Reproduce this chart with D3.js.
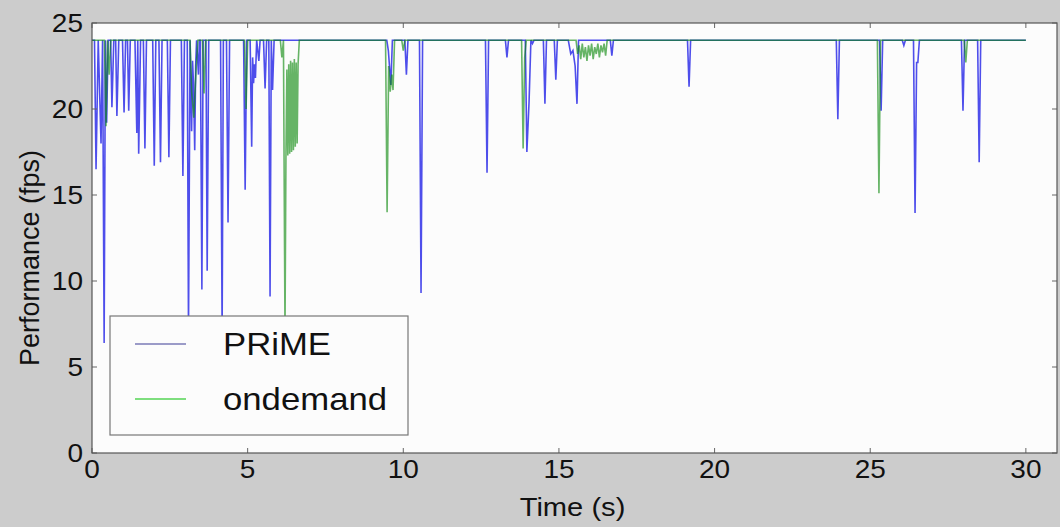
<!DOCTYPE html>
<html>
<head>
<meta charset="utf-8">
<script src="https://cdn.jsdelivr.net/npm/d3@7"></script>
<style>
  body { margin: 0; background: #cccccc; }
  text { font-family: "Liberation Sans", Arial, sans-serif; fill: #111; }
</style>
</head>
<body>
<script>
// Frame rate traces, [time (s), fps]
var prime = [
  [0,24],[0.08,24],[0.13,16.5],[0.2,24],[0.29,18.0],[0.34,24],[0.39,6.4],[0.43,24],
  [0.47,19.2],[0.52,24],[0.6,24],[0.64,20.1],[0.7,24],[0.76,24],[0.8,19.6],[0.86,24],
  [0.98,24],[1.03,19.8],[1.08,24],[1.14,24],[1.18,19.9],[1.23,24],[1.38,24],[1.44,18.6],
  [1.47,24],[1.5,17.4],[1.56,24],[1.65,24],[1.7,17.7],[1.75,24],[1.95,24],[2.0,16.7],
  [2.05,24],[2.15,24],[2.2,16.9],[2.25,24],[2.42,24],[2.47,17.2],[2.52,24],[2.87,24],
  [2.92,16.1],[2.97,24],[3.06,24],[3.1,7.0],[3.15,24],[3.2,18.7],[3.23,22.8],[3.26,21.5],
  [3.3,17.6],[3.33,22.5],[3.36,24],[3.42,22.0],[3.45,24],[3.48,24],[3.53,9.5],[3.57,24],
  [3.66,24],[3.7,10.6],[3.75,24],[4.13,24],[4.18,7.0],[4.22,24],[4.32,24],[4.37,13.4],
  [4.42,24],[4.87,24],[4.92,15.3],[4.97,24],[5.08,24],[5.13,17.8],[5.16,23],[5.19,21.5],
  [5.22,22.6],[5.25,21.8],[5.29,24],[5.36,22.8],[5.4,24],[5.51,24],[5.56,21.2],[5.61,24],
  [5.68,24],[5.72,9.1],[5.76,24],[5.8,21.1],[5.85,24],[9.47,24],[9.52,23.4],[9.6,21.4],
  [9.65,24],[10.05,24],[10.1,22.0],[10.15,24],[10.52,24],[10.57,9.3],[10.62,24],
  [12.64,24],[12.69,16.3],[12.74,24],[13.28,24],[13.33,23.0],[13.38,24],[13.92,24],
  [13.97,17.5],[14.04,20.4],[14.1,24],[14.15,23.8],[14.2,24],[14.5,24],[14.55,20.3],
  [14.6,24],[14.85,24],[14.9,21.7],[14.95,24],[15.3,24],[15.38,23.2],[15.45,23.4],
  [15.52,22.5],[15.58,20.3],[15.63,24],[16.65,24],[16.7,23.1],[16.75,24],[19.13,24],
  [19.18,21.3],[19.23,24],[23.91,24],[23.96,19.4],[24.01,24],[25.3,24],[25.35,19.9],
  [25.4,24],[26.03,24],[26.08,23.7],[26.13,24],[26.39,24],[26.44,13.95],[26.49,22.7],
  [26.53,22.7],[26.58,24],[27.93,24],[27.98,19.9],[28.03,24],[28.45,24],[28.5,16.9],
  [28.55,24],[30,24]
];

var ondemand = [
  [0,24],[0.4,24],[0.45,19.0],[0.5,24],[0.55,22],[0.6,24],[3.15,24],[3.2,21],[3.27,19.5],
  [3.35,22.5],[3.4,24],[3.55,24],[3.6,20.9],[3.65,24],[4.9,24],[4.95,20],[5.0,24],
  [6.05,24],[6.1,23],[6.15,24],[6.2,7.0],[6.23,17.2],[6.26,22.3],[6.29,17.3],[6.32,22.6],
  [6.35,17.4],[6.38,22.8],[6.41,17.5],[6.44,22.7],[6.47,17.6],[6.5,22.9],[6.53,17.8],
  [6.56,22.7],[6.59,18.0],[6.62,22.6],[6.66,24],[9.43,24],[9.48,14.0],
  [9.53,22.5],[9.58,21],[9.63,22],[9.67,21.1],[9.72,24],[9.95,24],[10.0,23.4],[10.05,24],
  [13.8,24],[13.85,17.7],[13.9,23],[13.95,24],[15.55,24],[15.6,23.2],[15.65,23.7],
  [15.7,22.9],[15.75,23.8],[15.8,23.0],[15.85,23.6],[15.9,22.8],[15.95,23.7],[16.0,23.1],
  [16.05,23.8],[16.1,22.9],[16.15,23.6],[16.2,23.2],[16.25,23.8],[16.3,23.0],[16.35,23.7],
  [16.4,23.3],[16.45,23.8],[16.5,23.1],[16.55,24],[25.23,24],[25.28,15.1],
  [25.33,24],[28.02,24],[28.07,22.7],[28.12,24],[30,24]
];

var xTicks = [0, 5, 10, 15, 20, 25, 30];
var yTicks = [0, 5, 10, 15, 20, 25];
var seriesNames = ["PRiME", "ondemand"];

var width = 1060, height = 527;
var plotLeft = 92, plotRight = 1057, plotTop = 23, plotBottom = 453;
var sx = 1.12; // horizontal text stretch seen in the picture

var x = d3.scaleLinear().domain([0, 31]).range([plotLeft, plotRight]);
var y = d3.scaleLinear().domain([0, 25]).range([plotBottom, plotTop]);

var svg = d3.select("body").append("svg")
    .attr("width", width)
    .attr("height", height);

svg.append("rect")
    .attr("width", width).attr("height", height)
    .attr("fill", "#cccccc");

// plot area
svg.append("rect")
    .attr("x", plotLeft).attr("y", plotTop)
    .attr("width", plotRight - plotLeft).attr("height", plotBottom - plotTop)
    .attr("fill", "#fcfcfc");

svg.append("clipPath").attr("id", "clip")
  .append("rect")
    .attr("x", plotLeft).attr("y", plotTop)
    .attr("width", plotRight - plotLeft).attr("height", plotBottom - plotTop);

var line = d3.line()
    .x(function(d) { return x(d[0]); })
    .y(function(d) { return y(d[1]); });

var g = svg.append("g").attr("clip-path", "url(#clip)");

g.append("path")
    .attr("d", line(prime))
    .attr("fill", "none")
    .attr("stroke", "#1414e6")
    .attr("stroke-opacity", 0.75)
    .attr("stroke-width", 1.6);

g.append("path")
    .attr("d", line(ondemand))
    .attr("fill", "none")
    .attr("stroke", "#0a880a")
    .attr("stroke-opacity", 0.62)
    .attr("stroke-width", 1.6);

// ticks inward on all four sides
var tickLen = 5;
xTicks.forEach(function(t) {
  svg.append("line").attr("x1", x(t)).attr("x2", x(t))
      .attr("y1", plotBottom).attr("y2", plotBottom - tickLen).attr("stroke", "#666");
  svg.append("line").attr("x1", x(t)).attr("x2", x(t))
      .attr("y1", plotTop).attr("y2", plotTop + tickLen).attr("stroke", "#666");
  svg.append("text")
      .attr("transform", "translate(" + x(t) + "," + (plotBottom + 25) + ") scale(" + sx + ",1)")
      .attr("text-anchor", "middle")
      .style("font-size", "25px")
      .text(t);
});

yTicks.forEach(function(t) {
  svg.append("line").attr("x1", plotLeft).attr("x2", plotLeft + tickLen)
      .attr("y1", y(t)).attr("y2", y(t)).attr("stroke", "#666");
  svg.append("line").attr("x1", plotRight).attr("x2", plotRight - tickLen)
      .attr("y1", y(t)).attr("y2", y(t)).attr("stroke", "#666");
  svg.append("text")
      .attr("transform", "translate(" + (plotLeft - 9) + "," + (y(t) + 9) + ") scale(" + sx + ",1)")
      .attr("text-anchor", "end")
      .style("font-size", "25px")
      .text(t);
});

// frame
svg.append("rect")
    .attr("x", plotLeft).attr("y", plotTop)
    .attr("width", plotRight - plotLeft).attr("height", plotBottom - plotTop)
    .attr("fill", "none")
    .attr("stroke", "#555")
    .attr("stroke-width", 1.2);

// axis labels
svg.append("text")
    .attr("transform", "translate(" + ((plotLeft + plotRight) / 2 - 2) + ",516) scale(" + sx + ",1)")
    .attr("text-anchor", "middle")
    .style("font-size", "26px")
    .text("Time (s)");

svg.append("text")
    .attr("transform", "translate(39,258) rotate(-90)")
    .attr("text-anchor", "middle")
    .style("font-size", "27px")
    .text("Performance (fps)");

// legend
var legend = svg.append("g");
legend.append("rect")
    .attr("x", 110).attr("y", 316)
    .attr("width", 298).attr("height", 119)
    .attr("fill", "#fcfcfc")
    .attr("stroke", "#777")
    .attr("stroke-width", 1.2);

var legendColors = ["#9b9bc8", "#7ede7e"];
seriesNames.forEach(function(name, i) {
  var ly = 344 + i * 55;
  legend.append("line")
      .attr("x1", 135).attr("x2", 186)
      .attr("y1", ly).attr("y2", ly)
      .attr("stroke", legendColors[i])
      .attr("stroke-width", 2);
  legend.append("text")
      .attr("transform", "translate(223," + (ly + 11) + ") scale(" + sx + ",1)")
      .style("font-size", "31px")
      .text(name);
});
</script>
</body>
</html>
